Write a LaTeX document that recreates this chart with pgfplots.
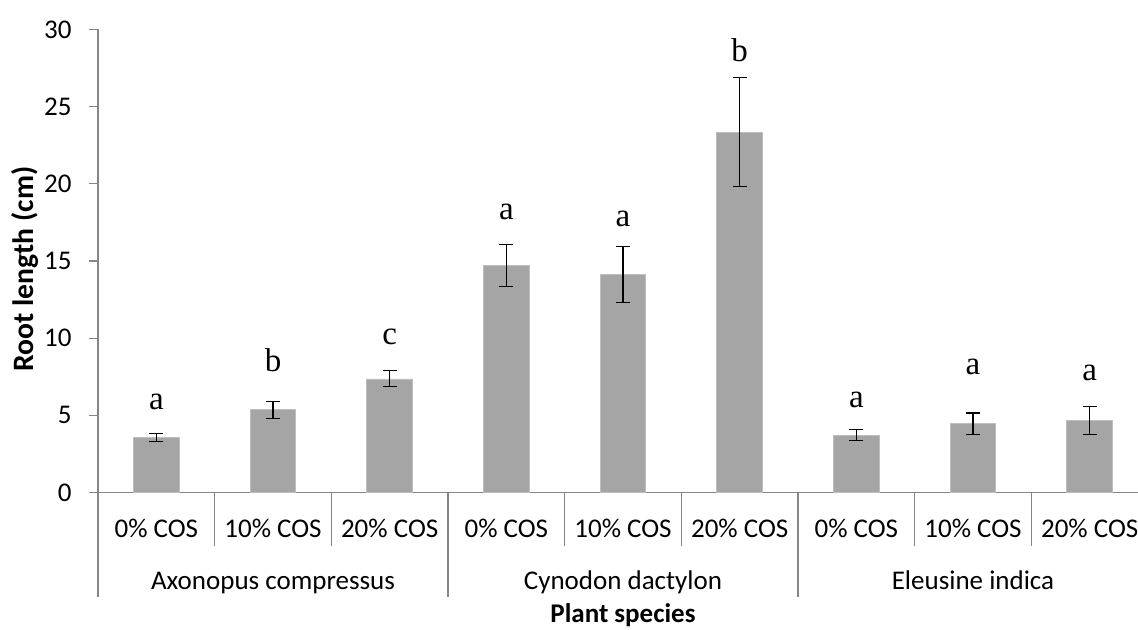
\documentclass[border=0pt]{standalone}
\usepackage{fontspec}
\setmainfont{Carlito}
\newfontfamily\letterfont{Liberation Serif}
\usepackage{pgfplots}
\usepackage{pgfplotstable}
\pgfplotsset{compat=1.18}

\definecolor{bargrey}{RGB}{165,165,165}
\definecolor{baredge}{RGB}{190,190,190}
\definecolor{axisgrey}{RGB}{134,134,134}
\newcommand\axfont{\fontsize{13.5}{16}\selectfont}

% x = treatment slot, y = mean root length, err = error bar, ly = height of the letter
\pgfplotstableread{
x y     err  lab ly
0 3.58  0.27 a   5.88
1 5.37  0.55 b   8.55
2 7.36  0.52 c   10.09
3 14.72 1.36 a   18.17
4 14.12 1.80 a   17.73
5 23.35 3.52 b   28.66
6 3.72  0.34 a   6.02
7 4.46  0.69 a   8.14
8 4.68  0.90 a   7.75
}\rootdata

\begin{document}
\begin{tikzpicture}
\begin{axis}[
    scale only axis,
    width=525pt, height=231.5pt,
    xmin=-0.5, xmax=8.5,
    ymin=0, ymax=30,
    clip=false,
    axis lines*=left,
    axis line style={axisgrey, line width=0.6pt},
    tick align=outside,
    tick style={axisgrey, line width=0.6pt},
    major tick length=4.5pt,
    minor tick length=26.75pt,
    ytick={0,5,...,30},
    xtick={0,...,8},
    xticklabels={0\% COS,10\% COS,20\% COS,0\% COS,10\% COS,20\% COS,0\% COS,10\% COS,20\% COS},
    minor xtick={0.5,1.5,3.5,4.5,6.5,7.5},
    major x tick style={draw=none},
    extra x ticks={1,4,7},
    extra x tick labels={Axonopus compressus,Cynodon dactylon,Eleusine indica},
    extra x tick style={major x tick style={draw=none}, xticklabel style={yshift=-26.05pt}},
    tick label style={font=\axfont, black},
    /pgf/number format/assume math mode=true,
    xticklabel style={anchor=base, inner sep=0pt, yshift=-17.95pt},
    yticklabel style={anchor=east, inner sep=0pt, xshift=-8.5pt},
    label style={font=\axfont\bfseries, black},
    ylabel={Root length (cm)},
    ylabel style={at={(axis description cs:-0.0695,0.4827)}, anchor=center,
        font=\fontsize{14.8}{17}\selectfont\bfseries},
    xlabel={Plant species},
    xlabel style={at={(axis description cs:0.5,0)}, anchor=base, yshift=-65pt},
]
\addplot[ybar, bar width=22.85pt, fill=bargrey, draw=baredge, line width=0.4pt,
    error bars/.cd, y dir=both, y explicit,
    error bar style={black, line width=0.55pt},
    error mark options={rotate=90, mark size=3.5pt, black, line width=0.55pt}]
    table[x=x, y=y, y error=err] {\rootdata};
\addplot[only marks, mark=none, nodes near coords, point meta=explicit symbolic,
    every node near coord/.append style={anchor=center, inner sep=0pt,
        font=\letterfont\fontsize{16.5}{19}\selectfont, black}]
    table[x=x, y=ly, meta=lab] {\rootdata};
% y axis line continued and group separators below the category row
\draw[axisgrey, line width=0.6pt] (axis cs:-0.5,0) -- ++(0pt,-52.25pt);
\draw[axisgrey, line width=0.6pt] (axis cs:2.5,0) -- ++(0pt,-52.25pt);
\draw[axisgrey, line width=0.6pt] (axis cs:5.5,0) -- ++(0pt,-52.25pt);
\draw[axisgrey, line width=0.6pt] (axis cs:8.5,0) -- ++(0pt,-52.25pt);
\end{axis}
\pgfresetboundingbox
\path[use as bounding box] (-49pt,-68.75pt) rectangle (520pt,246.25pt);
\end{tikzpicture}
\end{document}
